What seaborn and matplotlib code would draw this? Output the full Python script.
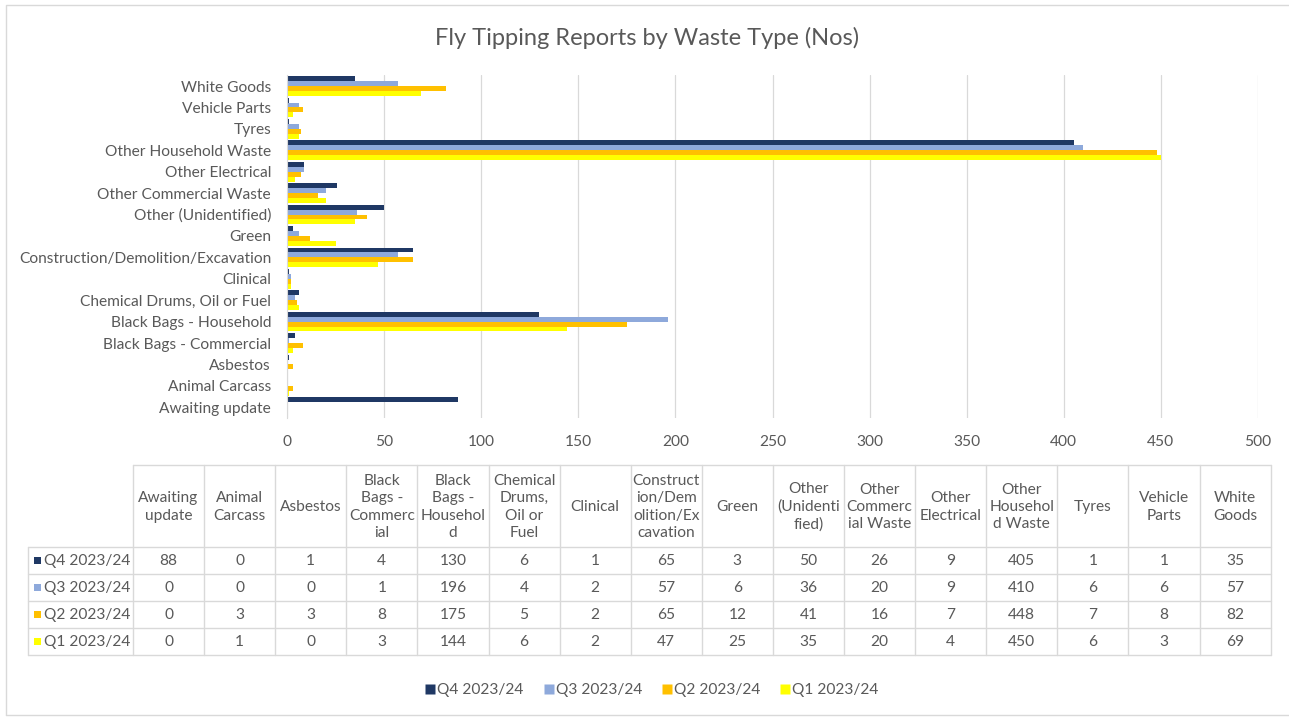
import matplotlib
matplotlib.use("Agg")
import matplotlib.pyplot as plt
from matplotlib.patches import Rectangle
from matplotlib.lines import Line2D
import seaborn as sns
import pandas as pd

# ---- data -------------------------------------------------------------
categories = [
    "Awaiting update", "Animal Carcass", "Asbestos", "Black Bags - Commercial",
    "Black Bags - Household", "Chemical Drums, Oil or Fuel", "Clinical",
    "Construction/Demolition/Excavation", "Green", "Other (Unidentified)",
    "Other Commercial Waste", "Other Electrical", "Other Household Waste",
    "Tyres", "Vehicle Parts", "White Goods",
]
table_headers = [
    "Awaiting\nupdate", "Animal\nCarcass", "Asbestos", "Black\nBags -\nCommerc\nial",
    "Black\nBags -\nHousehol\nd", "Chemical\nDrums,\nOil or\nFuel", "Clinical",
    "Construct\nion/Dem\nolition/Ex\ncavation", "Green", "Other\n(Unidenti\nfied)",
    "Other\nCommerc\nial Waste", "Other\nElectrical", "Other\nHousehol\nd Waste",
    "Tyres", "Vehicle\nParts", "White\nGoods",
]
quarters = ["Q4 2023/24", "Q3 2023/24", "Q2 2023/24", "Q1 2023/24"]
q4 = [88, 0, 1, 4, 130, 6, 1, 65, 3, 50, 26, 9, 405, 1, 1, 35]
q3 = [0, 0, 0, 1, 196, 4, 2, 57, 6, 36, 20, 9, 410, 6, 6, 57]
q2 = [0, 3, 3, 8, 175, 5, 2, 65, 12, 41, 16, 7, 448, 7, 8, 82]
q1 = [0, 1, 0, 3, 144, 6, 2, 47, 25, 35, 20, 4, 450, 6, 3, 69]
series = [q4, q3, q2, q1]
colors = ["#1F3864", "#8EA9DB", "#FFC000", "#FFFF00"]
x_ticks = [0, 50, 100, 150, 200, 250, 300, 350, 400, 450, 500]

df = pd.DataFrame({
    "Waste Type": categories * len(quarters),
    "Quarter": [q for q in quarters for _ in categories],
    "Reports": [v for s in series for v in s],
})

# ---- style ------------------------------------------------------------
sns.set_style("white")
plt.rcParams["font.family"] = ["Lato", "DejaVu Sans"]
TXT = "#595959"
GRID = "#D9D9D9"
FS = 11.2
W, H = 1289, 717

fig = plt.figure(figsize=(W / 100, H / 100), dpi=100)

# full-figure overlay in pixel units for the data table, frame and title
ov = fig.add_axes([0, 0, 1, 1])
ov.set_xlim(0, W)
ov.set_ylim(H, 0)
ov.axis("off")

# chart frame
ov.plot([6, 6, W + 5], [715, 5, 5], color=GRID, lw=1.0)
ov.plot([6, W + 5], [715, 715], color=GRID, lw=1.0)

ov.text(647, 38, "Fly Tipping Reports by Waste Type (Nos)", ha="center",
        va="center", fontsize=17, color=TXT)

# ---- bar chart ----------------------------------------------------------
left, right, top, bottom = 287, 1258, 75.3, 418
ax = fig.add_axes([left / W, 1 - bottom / H, (right - left) / W, (bottom - top) / H])
sns.barplot(
    data=df, y="Waste Type", x="Reports", hue="Quarter",
    order=categories[::-1], hue_order=quarters, palette=colors,
    orient="h", width=0.92, saturation=1, linewidth=0, legend=False, ax=ax,
)
ax.set_xlim(0, 500)
ax.set_xticks(x_ticks)
ax.set_xlabel("")
ax.set_ylabel("")
ax.grid(axis="x", color=GRID, lw=0.9)
ax.set_axisbelow(True)
for side in ["top", "right", "bottom"]:
    ax.spines[side].set_visible(False)
ax.spines["left"].set_color(GRID)
ax.tick_params(axis="both", length=0, labelsize=FS, colors=TXT)
ax.tick_params(axis="x", pad=12)
ax.tick_params(axis="y", pad=11.5)

# ---- data table ---------------------------------------------------------
col0, colw = 133, 71.1
tbl_left = 28
tbl_top, hdr_bot, row_h = 465, 547, 27.1
n = len(categories)
tbl_right = col0 + colw * n
tbl_bot = hdr_bot + row_h * len(quarters)
lc = dict(color=GRID, lw=1.0)

ov.plot([col0, tbl_right], [tbl_top, tbl_top], **lc)
for i in range(len(quarters) + 1):
    y = hdr_bot + i * row_h
    ov.plot([tbl_left, tbl_right], [y, y], **lc)
ov.plot([tbl_left, tbl_left], [hdr_bot, tbl_bot], **lc)
for j in range(n + 1):
    x = col0 + j * colw
    ov.plot([x, x], [tbl_top, tbl_bot], **lc)

for j, hdr in enumerate(table_headers):
    ov.text(col0 + (j + 0.5) * colw, (tbl_top + hdr_bot) / 2 + 1, hdr, ha="center",
            va="center", fontsize=FS, color=TXT, linespacing=1.3)

for i, (q, s, c) in enumerate(zip(quarters, series, colors)):
    yc = hdr_bot + (i + 0.5) * row_h
    ov.add_patch(Rectangle((34, yc - 3.5), 7, 7, facecolor=c, edgecolor="none"))
    ov.text(44, yc, q, ha="left", va="center", fontsize=FS, color=TXT)
    for j, v in enumerate(s):
        ov.text(col0 + (j + 0.5) * colw, yc, str(v), ha="center", va="center",
                fontsize=FS, color=TXT)

# ---- legend -------------------------------------------------------------
handles = [Line2D([], [], marker="s", linestyle="none", markersize=6.5,
                  markerfacecolor=c, markeredgecolor="none") for c in colors]
fig.legend(handles, quarters, loc="center", bbox_to_anchor=(652 / W, 1 - 690 / H),
           ncol=4, frameon=False, fontsize=FS, labelcolor=TXT,
           handletextpad=0.15, columnspacing=1.3, handlelength=0.6)

fig.savefig("out.png", dpi=100)
